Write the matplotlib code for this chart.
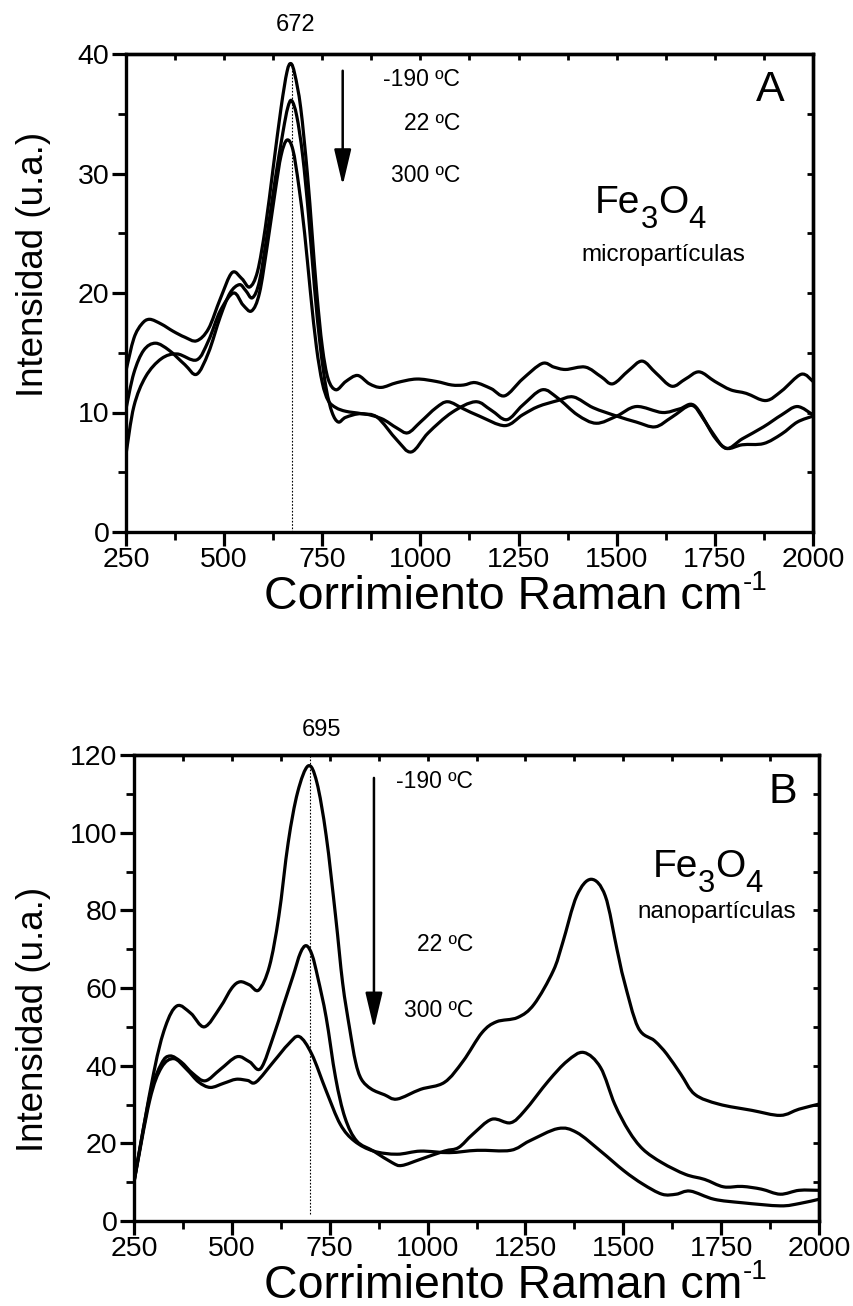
import numpy as np
import matplotlib
matplotlib.use("Agg")
import matplotlib.pyplot as plt
from matplotlib.ticker import FixedLocator
from matplotlib.path import Path
from matplotlib.patches import PathPatch

plt.rcParams['font.family'] = ['Liberation Sans', 'DejaVu Sans']

# ---- panel A : micropartículas ----
xA1 = [250, 270, 290, 310, 340, 370, 400, 430, 460, 490, 520, 545, 565, 585, 605, 625, 645, 660, 670,
       680, 695, 712, 724, 736, 750, 765, 785, 810, 840, 870, 900, 940, 990, 1040, 1080, 1110, 1140,
       1180, 1215, 1260, 1310, 1340, 1370, 1420, 1460, 1490, 1530, 1565, 1600, 1640, 1675, 1710, 1750,
       1790, 1830, 1880, 1920, 1970, 2000]
yA1 = [13.5, 16.2, 17.4, 17.8, 17.4, 16.8, 16.3, 16.0, 17.0, 19.5, 21.7, 21.2, 20.5, 21.8, 25.5, 30.5,
       35.5, 38.5, 39.2, 38.3, 35.5, 30.0, 25.0, 20.0, 15.5, 12.8, 11.9, 12.6, 13.1, 12.4, 12.1, 12.5,
       12.8, 12.6, 12.3, 12.3, 12.5, 12.0, 11.4, 12.8, 14.1, 13.8, 13.6, 13.8, 13.0, 12.4, 13.5, 14.3,
       13.3, 12.2, 12.8, 13.4, 12.6, 11.9, 11.6, 11.0, 11.8, 13.2, 12.6]

xA2 = [250, 270, 295, 325, 360, 400, 430, 460, 490, 515, 539, 555, 572, 590, 610, 630, 650, 662, 672,
       685, 700, 715, 730, 745, 760, 775, 791, 810, 850, 900, 940, 968, 1000, 1040, 1070, 1110, 1150,
       1215, 1260, 1300, 1350, 1390, 1440, 1500, 1550, 1598, 1640, 1690, 1720, 1750, 1780, 1820, 1874,
       1920, 1960, 2000]
yA2 = [10.3, 13.3, 15.2, 15.8, 15.2, 14.0, 13.2, 15.0, 18.0, 20.0, 20.7, 20.2, 19.6, 21.0, 25.0, 29.5,
       33.5, 35.5, 36.1, 34.8, 31.5, 26.5, 20.5, 15.5, 12.0, 10.0, 9.2, 9.6, 9.9, 9.5, 8.7, 8.3, 9.2,
       10.4, 10.9, 10.3, 9.7, 8.9, 9.8, 10.5, 11.0, 11.3, 10.4, 9.7, 9.2, 8.8, 9.6, 10.6, 9.5, 7.9, 7.0,
       7.3, 7.4, 8.2, 9.2, 9.7]

xA3 = [250, 270, 300, 340, 380, 430, 460, 490, 524, 548, 570, 590, 610, 630, 645, 660, 675, 690, 705,
       720, 735, 750, 765, 785, 810, 850, 890, 940, 977, 1020, 1080, 1140, 1180, 1220, 1260, 1310, 1350,
       1400, 1448, 1500, 1550, 1616, 1660, 1697, 1740, 1778, 1820, 1874, 1920, 1960, 2000]
yA3 = [6.5, 10.5, 13.0, 14.5, 14.9, 14.4, 16.0, 18.5, 20.0, 19.0, 18.5, 20.0, 24.0, 28.5, 31.5, 32.8,
       32.0, 29.0, 25.0, 20.0, 15.5, 12.5, 11.0, 10.4, 10.1, 9.9, 9.6, 7.7, 6.7, 8.3, 10.0, 10.9, 10.2,
       9.4, 10.6, 11.9, 11.2, 9.8, 9.1, 9.7, 10.5, 10.0, 10.3, 10.6, 8.5, 7.0, 7.8, 8.8, 9.8, 10.5, 9.8]

# ---- panel B : nanopartículas ----
xB1 = [250, 300, 330, 360, 395, 430, 470, 500, 521, 545, 569, 596, 620, 644, 668, 695, 717, 741, 765,
       783, 801, 816, 831, 856, 890, 922, 982, 1043, 1091, 1139, 1176, 1230, 1272, 1321, 1345, 1381, 1418,
       1454, 1484, 1502, 1538, 1580, 1611, 1647, 1683, 1744, 1828, 1901, 1949, 2000]
yB1 = [10.3, 38.0, 50.0, 55.4, 53.5, 50.0, 55.0, 60.0, 61.6, 60.8, 59.5, 65.6, 78.5, 97.5, 110.4, 117.2,
       113.0, 99.2, 78.5, 61.3, 49.5, 41.0, 36.5, 34.0, 32.5, 31.4, 33.9, 35.7, 41.2, 48.5, 51.3, 52.4,
       55.8, 64.4, 71.6, 83.7, 88.0, 83.7, 69.9, 61.9, 49.8, 46.4, 43.0, 37.8, 32.6, 30.1, 28.5, 27.2,
       28.8, 30.1]

xB2 = [250, 290, 320, 342, 370, 400, 432, 470, 513, 545, 574, 608, 630, 656, 675, 690, 705, 720, 741,
       765, 789, 819, 862, 910, 934, 982, 1043, 1079, 1115, 1164, 1212, 1248, 1309, 1357, 1399, 1442,
       1478, 1514, 1550, 1599, 1659, 1708, 1756, 1804, 1853, 1901, 1949, 2000]
yB2 = [10.0, 32.0, 40.5, 42.5, 41.0, 38.0, 36.1, 39.0, 42.3, 41.0, 39.3, 48.1, 55.0, 63.0, 69.0, 70.9,
       68.5, 62.5, 52.4, 36.9, 26.6, 20.6, 18.0, 15.0, 14.3, 15.9, 18.0, 18.9, 22.3, 26.2, 25.3, 28.4,
       36.1, 41.2, 43.4, 39.5, 30.1, 23.2, 18.5, 15.0, 12.0, 10.7, 8.8, 8.9, 8.2, 6.9, 7.9, 7.9]

xB3 = [250, 290, 320, 352, 385, 415, 445, 480, 511, 540, 562, 608, 644, 672, 704, 741, 777, 813, 862,
       922, 982, 1055, 1127, 1212, 1260, 1333, 1381, 1442, 1502, 1550, 1599, 1635, 1671, 1732, 1804,
       1901, 1950, 2000]
yB3 = [10.0, 31.0, 39.5, 41.8, 39.0, 35.8, 34.4, 35.5, 36.5, 36.2, 35.8, 41.2, 45.5, 47.5, 43.0, 33.5,
       24.9, 20.6, 18.0, 17.2, 18.0, 17.6, 18.2, 18.2, 20.6, 23.8, 22.8, 18.0, 12.9, 9.5, 6.9, 6.9, 7.7,
       5.6, 4.7, 3.9, 4.5, 5.6]

temps = ['-190 ºC', '22 ºC', '300 ºC']
peakA, peakB = 672, 700
peak_labels = ['672', '695']

W, H = 854, 1306
fig = plt.figure(figsize=(W / 100, H / 100), dpi=100)
axA = fig.add_axes([126 / W, 1 - 532 / H, 687 / W, 478 / H])
axB = fig.add_axes([134 / W, 1 - 1221 / H, 685 / W, 466 / H])


def smooth_line(ax, xs, ys, lw=2.3):
    # draw the read points as a smooth bezier path (Catmull-Rom style)
    p = np.column_stack([xs, ys]).astype(float)
    ext = np.vstack([p[0], p, p[-1]])
    verts = [tuple(p[0])]
    codes = [Path.MOVETO]
    for i in range(len(p) - 1):
        p0, p1, p2, p3 = ext[i], ext[i + 1], ext[i + 2], ext[i + 3]
        c1 = p1 + (p2 - p0) / 6.0
        c2 = p2 - (p3 - p1) / 6.0
        verts += [tuple(c1), tuple(c2), tuple(p2)]
        codes += [Path.CURVE4] * 3
    ax.add_patch(PathPatch(Path(verts, codes), fill=False, edgecolor='black', lw=lw,
                           joinstyle='round', capstyle='butt'))


def style(ax, ymax, ystep):
    ax.set_xlim(250, 2000)
    ax.set_ylim(0, ymax)
    ax.xaxis.set_major_locator(FixedLocator(np.arange(250, 2001, 250)))
    ax.xaxis.set_minor_locator(FixedLocator(np.arange(375, 2000, 250)))
    ax.yaxis.set_major_locator(FixedLocator(np.arange(0, ymax + 1, ystep)))
    ax.yaxis.set_minor_locator(FixedLocator(np.arange(ystep / 2, ymax, ystep)))
    ax.tick_params(which='major', direction='out', length=10, width=2.3, labelsize=20.5, pad=2)
    ax.tick_params(axis='x', which='major', pad=0.5)
    ax.tick_params(which='minor', direction='out', length=6, width=2.0)
    for s in ax.spines.values():
        s.set_linewidth(2.4)
    top = ax.secondary_xaxis('top')
    top.xaxis.set_major_locator(FixedLocator(np.arange(250, 2001, 250)))
    top.xaxis.set_minor_locator(FixedLocator(np.arange(375, 2000, 250)))
    top.tick_params(which='both', direction='in', length=4, width=2.0, labeltop=False)
    top.spines['top'].set_linewidth(2.4)
    right = ax.secondary_yaxis('right')
    right.yaxis.set_major_locator(FixedLocator(np.arange(0, ymax + 1, ystep)))
    right.yaxis.set_minor_locator(FixedLocator(np.arange(ystep / 2, ymax, ystep)))
    right.tick_params(which='both', direction='in', length=4, width=2.0, labelright=False)
    right.spines['right'].set_linewidth(2.4)
    ax.set_ylabel('Intensidad (u.a.)', fontsize=26.5)


def pieces(x0, base, parts):
    # parts: (string, fontsize, baseline shift in px); x0, base in figure pixels
    r = fig.canvas.get_renderer()
    x = x0
    for s, fs, dy in parts:
        t = fig.text(x / W, 1 - (base - dy) / H, s, fontsize=fs, ha='left', va='baseline')
        x += t.get_window_extent(r).width


def chem(ax, xc, yc, fs):
    # Fe3O4 with large, low subscripts, centred at data (xc, yc)
    r = fig.canvas.get_renderer()
    X, Y = ax.transData.transform((xc, yc))
    sub = fs * 0.8
    parts = [('Fe', fs, 0), ('3', sub, -15), ('O', fs, 0), ('4', sub, -15)]
    tmp = [fig.text(0, 0, s, fontsize=f) for s, f, _ in parts]
    total = sum(t.get_window_extent(r).width for t in tmp)
    for t in tmp:
        t.remove()
    base = H - Y + 0.716 * fs * 100 / 72 / 2
    pieces(X - total / 2, base, parts)


for xs, ys in [(xA1, yA1), (xA2, yA2), (xA3, yA3)]:
    smooth_line(axA, xs, ys)
for xs, ys in [(xB1, yB1), (xB2, yB2), (xB3, yB3)]:
    smooth_line(axB, xs, ys)

style(axA, 40, 10)
style(axB, 120, 20)
axA.yaxis.set_label_coords(-0.109, 0.56)
axB.yaxis.set_label_coords(-0.121, 0.433)

xlabel = [('Corrimiento Raman cm', 33.5, 0), ('-1', 20, 19)]
pieces(264, 609, xlabel)
pieces(264, 1298, xlabel)

arrow = dict(arrowstyle='-|>,head_length=1.1,head_width=0.26', mutation_scale=20,
             color='black', lw=1.8, shrinkA=0, shrinkB=0)

# panel A annotations
axA.plot([peakA, peakA], [0, 39.3], color='black', lw=0.8, ls=(0, (1.5, 1.5)))
axA.text(683, 42.4, peak_labels[0], fontsize=17, ha='center', va='center')
axA.annotate('', xy=(802, 29.0), xytext=(802, 38.6), arrowprops=arrow)
for t, yy in zip(temps, [37.9, 34.2, 29.8]):
    axA.text(1101, yy, t, fontsize=16.5, ha='right', va='center')
axA.text(1890, 37.0, 'A', fontsize=31, ha='center', va='center')
chem(axA, 1585, 27.9, 28)
axA.text(1618, 23.2, 'micropartículas', fontsize=17.5, ha='center', va='center')

# panel B annotations
axB.plot([peakB, peakB], [1.7, 120], color='black', lw=0.8, ls=(0, (1.5, 1.5)))
axB.text(728, 126.4, peak_labels[1], fontsize=17, ha='center', va='center')
axB.annotate('', xy=(863, 49.5), xytext=(863, 114.1), arrowprops=arrow)
for t, yy in zip(temps, [113.3, 71.1, 54.3]):
    axB.text(1117, yy, t, fontsize=16.5, ha='right', va='center')
axB.text(1908, 110.5, 'B', fontsize=31, ha='center', va='center')
chem(axB, 1716, 92.2, 28)
axB.text(1740, 79.6, 'nanopartículas', fontsize=17.5, ha='center', va='center')

fig.savefig('out.png', dpi=100)
